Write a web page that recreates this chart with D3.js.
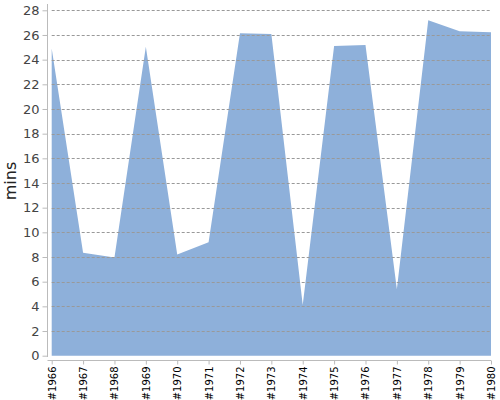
<!DOCTYPE html>
<html>
<meta charset="utf-8">
<title>mins</title>
<style>
  body { margin: 0; background: #fff; }
  svg text { font-family: "DejaVu Sans", sans-serif; }
  .grid line { stroke: #999; stroke-width: 1; stroke-dasharray: 3,2; }
  .axis path, .axis line { stroke: #bbb; }
</style>
<body>
<script src="https://d3js.org/d3.v7.min.js"></script>
<script>
var years = ["#1966","#1967","#1968","#1969","#1970","#1971","#1972","#1973",
             "#1974","#1975","#1976","#1977","#1978","#1979","#1980"];
var mins = [24.9, 8.35, 7.97, 25.04, 8.2, 9.2, 26.13, 26.07,
            4.1, 25.1, 25.18, 5.38, 27.2, 26.3, 26.23];
var yTicks = d3.range(0, 29, 2);

var width = 500, height = 400;
var x0 = 51.7, x1 = 491, y0 = 355.7, y1 = 10.3;

var svg = d3.select("body").append("svg")
    .attr("width", width)
    .attr("height", height);

var x = d3.scalePoint().domain(years).range([x0, x1]);
var y = d3.scaleLinear().domain([0, 28]).range([y0, y1]);

var area = d3.area()
    .x(function(d, i) { return x(years[i]); })
    .y0(y(0))
    .y1(function(d) { return y(d); });

svg.append("path")
    .datum(mins)
    .attr("d", area)
    .style("fill", "#8eb0da");

// dashed grid on top of the area
svg.append("g")
    .attr("class", "grid")
  .selectAll("line")
    .data(yTicks.slice(1))
  .enter().append("line")
    .attr("x1", x0)
    .attr("x2", x1)
    .attr("y1", function(d) { return Math.round(y(d)) + 0.5; })
    .attr("y2", function(d) { return Math.round(y(d)) + 0.5; });

// y axis
var yAxis = svg.append("g")
    .attr("class", "axis")
    .attr("transform", "translate(47.5,0)")
    .call(d3.axisLeft(y).tickValues(yTicks).tickSize(5).tickSizeOuter(0));
yAxis.select(".domain").attr("d", "M0,4V357");
yAxis.selectAll("text")
    .style("font-size", "13px")
    .style("fill", "#444");

// x axis
var xAxis = svg.append("g")
    .attr("class", "axis")
    .attr("transform", "translate(0,360.5)")
    .call(d3.axisBottom(x).tickSize(4).tickSizeOuter(0));
xAxis.select(".domain").attr("d", "M47.5,0H" + x1);
xAxis.selectAll("text")
    .attr("transform", "rotate(-90)")
    .attr("x", -6)
    .attr("y", 0)
    .attr("dy", "0.35em")
    .style("text-anchor", "end")
    .style("font-size", "10px")
    .style("fill", "#000");

svg.append("text")
    .attr("transform", "translate(16,181) rotate(-90)")
    .style("text-anchor", "middle")
    .style("font-size", "16px")
    .style("fill", "#222")
    .text("mins");
</script>
</body>
</html>
